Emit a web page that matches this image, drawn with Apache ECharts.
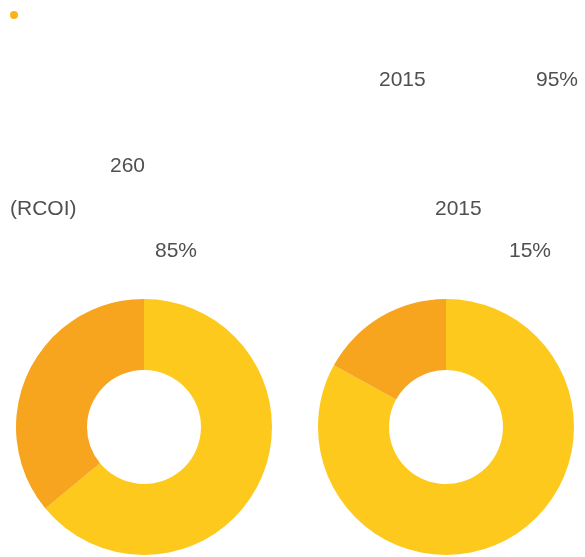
<!DOCTYPE html>
<html>
<head>
<meta charset="utf-8">
<script src="https://cdn.jsdelivr.net/npm/echarts@6/dist/echarts.min.js"></script>
<style>
  html, body { margin: 0; padding: 0; background: #fff; }
  #main { width: 585px; height: 557px; }
</style>
</head>
<body>
<div id="main"></div>
<script>
const sliceNames = ['A', 'B']
const leftValues = [64, 36]
const rightValues = [83, 17]
const sliceColors = ['#fdc91c', '#f7a51f']

// text pieces that survived in the picture
const textLines = [
  { text: '2015', left: 379, top: 70 },
  { text: '95%', left: 536, top: 70 },
  { text: '260', left: 110, top: 156 },
  { text: '(RCOI)', left: 10, top: 199 },
  { text: '2015', left: 435, top: 199 },
  { text: '85%', left: 155, top: 241 },
  { text: '15%', left: 509, top: 241 }
]

const chart = echarts.init(document.getElementById('main'))

function ring(values, cx) {
  return {
    type: 'pie',
    center: [cx, 427],
    radius: [57, 128],
    startAngle: 90,
    clockwise: true,
    label: { show: false },
    labelLine: { show: false },
    emphasis: { disabled: true },
    data: sliceNames.map((n, i) => ({ name: n, value: values[i], itemStyle: { color: sliceColors[i] } }))
  }
}

chart.setOption({
  animation: false,
  title: textLines.map(t => ({
    text: t.text,
    left: t.left,
    top: t.top,
    padding: 0,
    textStyle: { fontSize: 21, fontWeight: 'normal', color: '#505050', fontFamily: 'Liberation Sans' }
  })),
  legend: {
    left: 10,
    top: 11,
    padding: 0,
    icon: 'circle',
    itemWidth: 8,
    itemHeight: 8,
    data: [{ name: sliceNames[0], itemStyle: { color: '#fbb417' } }],
    formatter: () => ''
  },
  series: [ring(leftValues, 144), ring(rightValues, 446)]
})
</script>
</body>
</html>
